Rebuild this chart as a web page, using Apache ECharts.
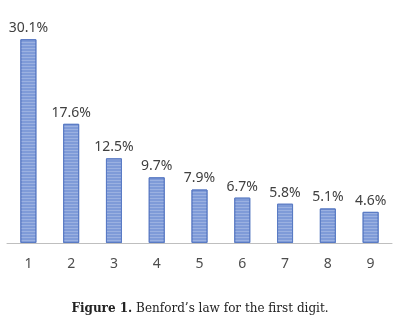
<!DOCTYPE html>
<html><head><meta charset="utf-8">
<script src="https://cdn.jsdelivr.net/npm/echarts@6/dist/echarts.min.js"></script>
<style>html,body{margin:0;padding:0;background:#fff;}#c{width:400px;height:325px;}</style>
</head><body><div id="c"></div>
<script>
const categories = ['1','2','3','4','5','6','7','8','9'];
const values = [30.1, 17.6, 12.5, 9.7, 7.9, 6.7, 5.8, 5.1, 4.6];
const captionBold = 'Figure 1.';
const captionText = ' Benford\u2019s law for the first digit.';

const chart = echarts.init(document.getElementById('c'), null, {renderer:'canvas'});
chart.setOption({
  animation: false,
  backgroundColor: '#ffffff',
  grid: {left: 7, right: 8, top: 6, bottom: 82},
  xAxis: {
    type: 'category', data: categories,
    axisLine: {lineStyle: {color: '#bfbfbf', width: 1}},
    axisTick: {show: false},
    axisLabel: {color: '#4d4d4d', fontFamily: 'Noto Sans', fontSize: 14, margin: 14}
  },
  yAxis: {type: 'value', min: 0, max: 35, show: false, splitLine: {show: false}},
  series: [{
    type: 'bar', data: values, barWidth: 16,
    itemStyle: {
      color: '#7f9bd8', borderColor: '#5a7bc4', borderWidth: 1,
      decal: {symbol: 'rect', dashArrayX: [1, 0], dashArrayY: [1, 2], color: 'rgba(255,255,255,0.22)', rotation: 0}
    },
    label: {show: true, position: 'top', distance: 4, color: '#404040', fontFamily: 'Noto Sans', fontSize: 14,
      formatter: p => p.value.toFixed(1) + '%'}
  }],
  graphic: [{
    type: 'text', left: 'center', top: 303,
    style: {
      rich: {
        b: {fontFamily: 'DejaVu Serif', fontWeight: 'bold', fontSize: 12, fill: '#222'},
        n: {fontFamily: 'DejaVu Serif', fontSize: 12, fill: '#222'}
      },
      text: '{b|' + captionBold + '}{n|' + captionText + '}'
    }
  }]
});
</script></body></html>
